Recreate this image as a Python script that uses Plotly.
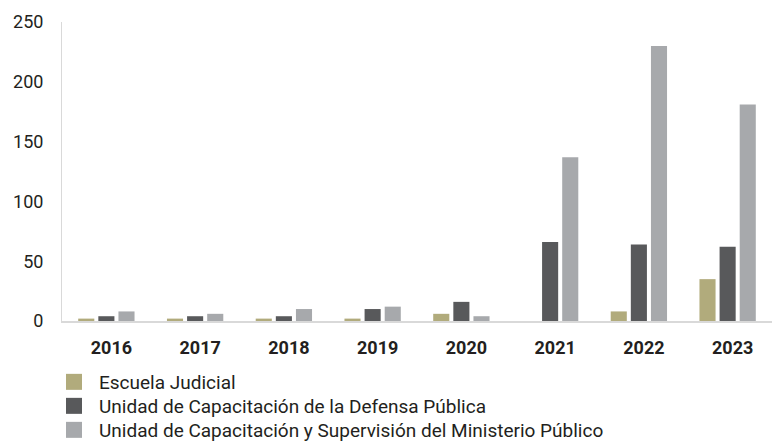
import plotly.graph_objects as go

years = ["2016", "2017", "2018", "2019", "2020", "2021", "2022", "2023"]

escuela_judicial = [2, 2, 2, 2, 6, 0, 8, 35]
defensa_publica = [4, 4, 4, 10, 16, 66, 64, 62]
ministerio_publico = [8, 6, 10, 12, 4, 137, 230, 181]

series_names = [
    "Escuela Judicial",
    "Unidad de Capacitación de la Defensa Pública",
    "Unidad de Capacitación y Supervisión del Ministerio Público",
]
series_colors = ["#B1AB7C", "#58595B", "#A7A9AC"]
series_values = [escuela_judicial, defensa_publica, ministerio_publico]

AXIS_FONT = "Roboto"
LEGEND_FONT = "Roboto"
LEGEND_IDS = ["legend", "legend2", "legend3"]
LEGEND_ROWS_Y = [382, 406, 430]  # vertical centre of each legend row, px from top

fig = go.Figure()
for name, color, values in zip(series_names, series_colors, series_values):
    fig.add_trace(
        go.Bar(
            x=years,
            y=values,
            name=name,
            showlegend=False,
            marker=dict(color=color, line=dict(width=0)),
        )
    )

# Square swatches for the legend, one legend box per row
for name, color, legend_id in zip(series_names, series_colors, LEGEND_IDS):
    fig.add_trace(
        go.Scatter(
            x=[None],
            y=[None],
            mode="markers",
            name=name,
            legend=legend_id,
            marker=dict(symbol="square", size=16, color=color),
            hoverinfo="skip",
        )
    )

legend_style = dict(
    xref="container",
    yref="container",
    x=49 / 778,
    xanchor="left",
    yanchor="middle",
    orientation="v",
    font=dict(family=LEGEND_FONT, size=19, color="#231F20"),
    bgcolor="rgba(0,0,0,0)",
    itemwidth=40,
    itemsizing="trace",
)

legends = {}
for legend_id, row_y in zip(LEGEND_IDS, LEGEND_ROWS_Y):
    legends[legend_id] = dict(legend_style, y=1 - row_y / 443)

fig.update_layout(
    width=778,
    height=443,
    barmode="group",
    bargap=0.32,
    bargroupgap=0.2,
    plot_bgcolor="white",
    paper_bgcolor="white",
    margin=dict(l=62, r=6, t=22, b=122, pad=0, autoexpand=False),
    font=dict(family=AXIS_FONT, size=18, color="#231F20"),
    showlegend=True,
    **legends,
    xaxis=dict(
        type="category",
        categoryorder="array",
        categoryarray=years,
        showline=True,
        linecolor="#D9D9D9",
        linewidth=2,
        ticks="",
        showgrid=False,
        tickangle=0,
        tickfont=dict(family=AXIS_FONT, size=18, color="#231F20", weight="bold"),
        ticklabelshift=5,
        ticklabelstandoff=9,
    ),
    yaxis=dict(
        range=[0, 250],
        dtick=50,
        showline=True,
        linecolor="#D9D9D9",
        linewidth=1,
        ticks="",
        showgrid=False,
        zeroline=False,
        tickfont=dict(family=AXIS_FONT, size=18, color="#231F20"),
        ticklabelstandoff=14,
    ),
)

fig.write_html("out.html")
